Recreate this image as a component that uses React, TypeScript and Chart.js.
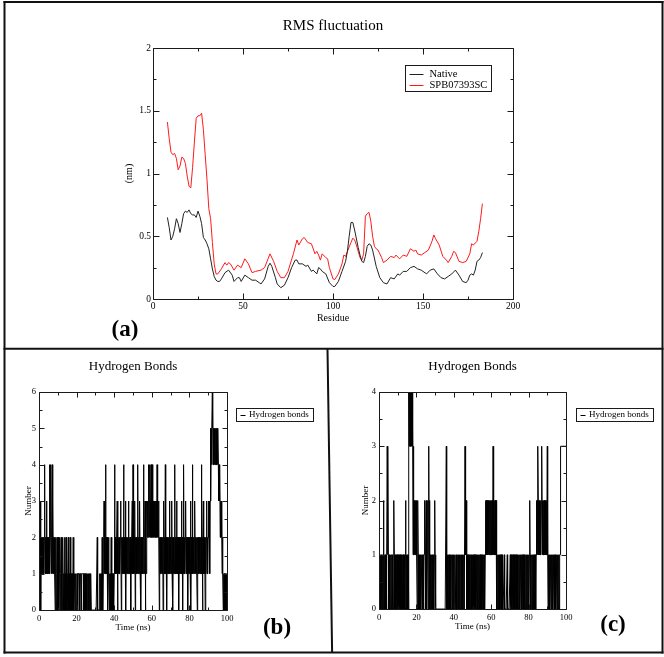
import React, { useEffect, useRef } from 'react';
import { Chart, registerables } from 'chart.js';
Chart.register(...registerables);

const SERIF = '"Liberation Serif", "Times New Roman", serif';

// ---------- Panel (a): RMS fluctuation ----------
const rmsTitle = 'RMS fluctuation';
const rmsXLabel = 'Residue';
const rmsYLabel = '(nm)';
const nativeLabel = 'Native';
const spbLabel = 'SPB07393SC';

const nativeResidues = [
  8, 9, 10, 11, 12, 13, 14, 15, 16, 17, 18, 19, 20, 21, 22, 23, 24, 25, 26, 27,
  28, 29, 30, 31, 32, 33, 34, 35, 36, 37, 38, 40, 42, 44, 45, 47, 48, 49, 51, 53,
  55, 57, 59, 60, 62, 64, 65, 66, 68, 69, 71, 73, 75, 77, 79, 80, 81, 83, 85, 86,
  88, 89, 91, 92, 93, 94, 96, 98, 100, 101, 103, 105, 107, 108, 109, 110, 111, 112, 114, 115,
  116, 117, 118, 119, 120, 121, 122, 124, 126, 128, 130, 132, 134, 136, 137, 139, 141, 143, 145, 147,
  149, 152, 154, 156, 158, 160, 162, 164, 166, 168, 170, 172, 174, 175, 176, 177, 178, 179, 180, 181,
  182, 183,
];
const nativeRmsf = [
  0.65, 0.57, 0.47, 0.5, 0.56, 0.64, 0.6, 0.53, 0.6, 0.68, 0.7, 0.69, 0.71, 0.68, 0.67, 0.67, 0.65, 0.7, 0.66, 0.6,
  0.49, 0.47, 0.44, 0.4, 0.32, 0.24, 0.18, 0.15, 0.14, 0.14, 0.16, 0.21, 0.23, 0.19, 0.14, 0.17, 0.17, 0.14, 0.19, 0.17,
  0.15, 0.15, 0.13, 0.12, 0.16, 0.26, 0.285, 0.26, 0.17, 0.12, 0.09, 0.11, 0.17, 0.25, 0.31, 0.31, 0.28, 0.28, 0.26, 0.27,
  0.22, 0.23, 0.2, 0.25, 0.24, 0.22, 0.2, 0.13, 0.1, 0.1, 0.14, 0.22, 0.3, 0.38, 0.5, 0.61, 0.61, 0.55, 0.41, 0.35,
  0.3, 0.29, 0.34, 0.42, 0.44, 0.43, 0.39, 0.26, 0.17, 0.13, 0.12, 0.17, 0.16, 0.2, 0.19, 0.22, 0.22, 0.25, 0.26, 0.24,
  0.23, 0.2, 0.23, 0.24, 0.2, 0.17, 0.16, 0.18, 0.2, 0.23, 0.19, 0.14, 0.13, 0.15, 0.19, 0.2, 0.19, 0.23, 0.3, 0.31,
  0.33, 0.37,
];

const spbResidues = [
  8, 9, 10, 11, 12, 13, 14, 15, 16, 17,
  18, 19, 20, 21, 22, 23, 24, 25, 26, 27,
  28, 29, 30, 31, 32, 33, 34, 35, 36, 38,
  40, 41, 42, 43, 45, 47, 49, 51, 53, 55,
  57, 60, 62, 65, 67, 69, 71, 73, 75, 78,
  80, 81, 83, 84, 86, 88, 90, 91, 92, 93,
  94, 96, 97, 98, 100, 101, 103, 105, 106, 107,
  108, 110, 111, 112, 113, 115, 116, 117, 118, 119,
  120, 121, 122, 123, 124, 125, 127, 128, 130, 132,
  134, 135, 137, 139, 141, 143, 145, 146, 147, 149,
  151, 153, 155, 156, 157, 159, 161, 163, 164, 166,
  167, 168, 170, 172, 174, 176, 177, 178, 180, 181,
  182, 183,
];
const spbRmsf = [
  1.41, 1.28, 1.17, 1.15, 1.16, 1.12, 1.03, 1.06, 1.13, 1.12,
  1.08, 0.98, 0.9, 0.885, 1.05, 1.25, 1.44, 1.46, 1.46, 1.48,
  1.35, 1.15, 0.95, 0.72, 0.64, 0.45, 0.28, 0.2, 0.2, 0.24,
  0.29, 0.27, 0.29, 0.28, 0.23, 0.27, 0.25, 0.32, 0.28, 0.21,
  0.22, 0.23, 0.25, 0.36, 0.3, 0.22, 0.17, 0.17, 0.22, 0.36,
  0.47, 0.43, 0.48, 0.49, 0.45, 0.44, 0.36, 0.38, 0.35, 0.31,
  0.36, 0.33, 0.32, 0.25, 0.16, 0.155, 0.2, 0.28, 0.35, 0.34,
  0.38, 0.45, 0.485, 0.47, 0.43, 0.33, 0.31, 0.36, 0.66, 0.68,
  0.69, 0.62, 0.5, 0.42, 0.4, 0.39, 0.33, 0.29, 0.31, 0.34,
  0.33, 0.35, 0.32, 0.35, 0.34, 0.4, 0.38, 0.39, 0.36, 0.35,
  0.37, 0.39, 0.46, 0.51, 0.48, 0.43, 0.34, 0.31, 0.29, 0.34,
  0.38, 0.37, 0.3, 0.29, 0.3, 0.36, 0.44, 0.43, 0.46, 0.54,
  0.64, 0.76,
];

// ---------- Panels (b), (c): Hydrogen bonds (one sample every 0.2 ns, 0..100 ns) ----------
const hbTitle = 'Hydrogen Bonds';
const hbLabel = 'Hydrogen bonds';
const hbXLabel = 'Time (ns)';
const hbYLabel = 'Number';
const hbSampleNs = 0.2;

// each row = 5 ns
const hbondsB = [
  0, 2, 1, 3, 1, 0, 2, 1, 2, 1, 2, 1, 2, 1, 2, 4, 1, 2, 1, 2, 3, 1, 2, 1, 2,
  1, 2, 1, 4, 1, 2, 4, 2, 1, 2, 4, 1, 3, 1, 2, 1, 2, 1, 0, 2, 1, 0, 1, 2, 1,
  0, 2, 1, 0, 1, 2, 0, 1, 1, 2, 0, 1, 0, 2, 1, 0, 1, 1, 2, 0, 1, 0, 2, 1, 0,
  1, 0, 1, 2, 0, 1, 1, 0, 2, 1, 0, 1, 0, 1, 1, 0, 2, 1, 0, 1, 1, 0, 1, 1, 0,
  1, 1, 1, 0, 1, 1, 1, 1, 0, 0, 1, 1, 1, 0, 1, 1, 1, 1, 1, 0, 1, 0, 1, 1, 0,
  1, 0, 1, 0, 1, 1, 0, 1, 0, 1, 1, 1, 0, 1, 0, 0, 0, 0, 0, 0, 0, 0, 0, 0, 0,
  0, 0, 0, 0, 0, 2, 0, 0, 0, 0, 0, 1, 1, 0, 1, 0, 1, 0, 2, 1, 0, 1, 2, 3, 1,
  2, 1, 4, 1, 2, 1, 2, 1, 0, 1, 2, 1, 0, 1, 0, 1, 0, 2, 1, 0, 1, 0, 1, 1, 0,
  1, 4, 1, 2, 1, 2, 1, 2, 3, 0, 2, 1, 2, 1, 2, 1, 2, 3, 2, 0, 2, 1, 2, 1, 2,
  4, 1, 2, 1, 2, 3, 0, 2, 1, 2, 1, 2, 1, 3, 2, 1, 2, 1, 2, 0, 2, 1, 2, 3, 1,
  4, 2, 1, 2, 1, 3, 0, 2, 1, 2, 1, 2, 1, 4, 1, 2, 1, 2, 3, 1, 2, 0, 2, 1, 2,
  1, 2, 1, 4, 2, 1, 2, 3, 0, 2, 1, 2, 3, 2, 3, 2, 3, 4, 3, 2, 4, 3, 2, 4, 3,
  2, 4, 3, 2, 3, 2, 3, 2, 3, 2, 3, 2, 3, 2, 4, 2, 3, 2, 3, 2, 0, 2, 1, 2, 1,
  2, 1, 2, 1, 2, 0, 2, 3, 1, 2, 1, 4, 1, 2, 1, 0, 2, 1, 2, 1, 2, 1, 3, 1, 2,
  1, 2, 1, 3, 1, 2, 0, 2, 1, 2, 1, 4, 1, 2, 1, 2, 3, 1, 2, 1, 2, 1, 0, 2, 1,
  2, 1, 2, 1, 3, 1, 2, 0, 2, 1, 4, 1, 2, 1, 2, 3, 1, 2, 1, 2, 1, 0, 2, 1, 2,
  1, 2, 1, 3, 0, 2, 1, 2, 4, 1, 2, 1, 2, 1, 3, 2, 1, 2, 1, 2, 1, 0, 2, 1, 2,
  1, 2, 1, 2, 1, 2, 1, 4, 1, 2, 0, 2, 3, 1, 2, 1, 2, 0, 2, 1, 2, 3, 1, 2, 1,
  2, 3, 2, 3, 1, 3, 5, 3, 5, 4, 5, 6, 5, 4, 5, 4, 5, 4, 5, 4, 5, 4, 5, 4, 5,
  4, 5, 4, 3, 4, 3, 4, 2, 3, 2, 3, 2, 1, 2, 1, 0, 1, 0, 1, 0, 1, 0, 1, 0, 1,
  0,
];

const hbondsC = [
  1, 0, 1, 0, 1, 0, 1, 0, 1, 0, 1, 0, 2, 1, 0, 1, 0, 1, 0, 1, 0, 1, 3, 1, 3,
  1, 0, 1, 0, 1, 0, 1, 1, 0, 1, 1, 0, 1, 0, 1, 2, 1, 0, 1, 1, 0, 1, 0, 1, 1,
  0, 1, 1, 0, 1, 1, 0, 1, 0, 1, 0, 1, 0, 1, 0, 1, 0, 1, 0, 1, 0, 2, 1, 0, 1,
  0, 1, 0, 1, 0, 4, 3, 4, 3, 4, 3, 4, 3, 3, 4, 3, 1, 3, 1, 2, 1, 2, 1, 2, 1,
  2, 1, 0, 1, 2, 1, 0, 1, 0, 1, 0, 1, 0, 1, 1, 0, 1, 0, 1, 0, 1, 1, 2, 1, 0,
  1, 2, 1, 0, 1, 2, 1, 0, 3, 1, 2, 0, 1, 0, 1, 0, 1, 0, 1, 0, 1, 1, 0, 1, 2,
  1, 0, 0, 0, 0, 0, 0, 0, 0, 0, 0, 0, 0, 0, 0, 0, 0, 0, 0, 0, 0, 0, 0, 0, 0,
  0, 0, 0, 0, 0, 3, 0, 0, 1, 0, 0, 1, 0, 1, 0, 0, 1, 0, 0, 1, 1, 0, 1, 0, 0,
  1, 0, 1, 1, 0, 0, 1, 0, 1, 0, 1, 1, 0, 1, 0, 0, 1, 0, 1, 1, 0, 1, 0, 1, 1,
  0, 1, 1, 0, 0, 3, 2, 1, 2, 1, 0, 1, 0, 1, 1, 0, 1, 0, 1, 0, 1, 1, 0, 1, 0,
  1, 0, 1, 1, 0, 1, 0, 1, 0, 1, 1, 0, 1, 0, 1, 0, 1, 1, 0, 1, 0, 1, 0, 1, 1,
  0, 1, 0, 1, 0, 1, 0, 1, 0, 1, 2, 1, 2, 1, 2, 2, 1, 2, 1, 2, 1, 2, 1, 1, 2,
  1, 2, 1, 2, 1, 3, 1, 2, 1, 2, 1, 2, 1, 2, 0, 1, 0, 1, 1, 0, 1, 0, 1, 0, 1,
  0, 1, 1, 0, 1, 0, 0, 0, 0, 0, 1, 0, 0, 0, 0, 0, 0, 0, 1, 0, 0, 0, 0, 0, 0,
  0, 1, 0, 1, 1, 0, 1, 0, 1, 1, 0, 1, 0, 0, 1, 0, 1, 1, 0, 1, 0, 1, 0, 1, 1,
  0, 1, 0, 1, 1, 0, 1, 0, 1, 0, 1, 1, 0, 1, 0, 1, 0, 1, 1, 0, 1, 0, 1, 1, 0,
  1, 0, 1, 2, 1, 0, 1, 0, 1, 1, 0, 1, 0, 1, 0, 1, 1, 0, 1, 0, 1, 2, 1, 2, 1,
  3, 2, 1, 2, 1, 2, 1, 2, 1, 2, 3, 2, 1, 2, 1, 2, 1, 2, 1, 2, 1, 2, 1, 2, 1,
  3, 1, 0, 1, 1, 0, 1, 0, 1, 1, 0, 1, 1, 0, 1, 0, 1, 1, 0, 1, 0, 1, 1, 0, 1,
  1, 0, 1, 1, 0, 1, 1, 0, 1, 1, 3, 3, 3, 3, 3, 3, 3, 3, 3, 3, 3, 3, 3, 3, 3,
  3,
];

// ---------- plugins ----------
const frameTicks = {
  id: 'frameTicks',
  afterDatasetsDraw(chart: any, _args: any, o: any) {
    const { ctx, chartArea } = chart;
    const { left, right, top, bottom } = chartArea;
    const xs = chart.scales.x;
    const ys = chart.scales.y;
    const p = (v: number) => Math.round(v) + 0.5;
    ctx.save();
    ctx.strokeStyle = '#1a1a1a';
    ctx.lineWidth = 1;
    ctx.beginPath();
    ctx.rect(p(left), p(top), p(right) - p(left), p(bottom) - p(top));
    const isMajor = (v: number, base: number, step: number) => {
      const r = (v - base) / step;
      return Math.abs(r - Math.round(r)) < 1e-6;
    };
    for (let k = 0; ; k++) {
      const v = xs.min + k * o.xMinor;
      if (v > xs.max + 1e-9) break;
      const len = isMajor(v, xs.min, o.xMajor) ? o.major : o.minor;
      const x = p(xs.getPixelForValue(v));
      ctx.moveTo(x, p(bottom));
      ctx.lineTo(x, p(bottom) - len);
      ctx.moveTo(x, p(top));
      ctx.lineTo(x, p(top) + len);
    }
    for (let k = 0; ; k++) {
      const v = ys.min + k * o.yMinor;
      if (v > ys.max + 1e-9) break;
      const len = isMajor(v, ys.min, o.yMajor) ? o.major : o.minor;
      const y = p(ys.getPixelForValue(v));
      ctx.moveTo(p(left), y);
      ctx.lineTo(p(left) + len, y);
      ctx.moveTo(p(right), y);
      ctx.lineTo(p(right) - len, y);
    }
    ctx.stroke();
    ctx.restore();
  },
};

const boxLegend = {
  id: 'boxLegend',
  afterDraw(chart: any, _args: any, o: any) {
    const { ctx, chartArea } = chart;
    const x0 = Math.round((o.fromRight ? chartArea.right : chartArea.left) + o.dx) + 0.5;
    const y0 = Math.round(chartArea.top + o.dy) + 0.5;
    ctx.save();
    ctx.lineWidth = 1;
    ctx.strokeStyle = '#1a1a1a';
    ctx.strokeRect(x0, y0, o.w, o.h);
    ctx.font = `${o.fontSize}px ${SERIF}`;
    ctx.textBaseline = 'middle';
    ctx.textAlign = 'left';
    ctx.fillStyle = '#000';
    chart.data.datasets.forEach((ds: any, i: number) => {
      const y = y0 + o.rowY0 + i * o.rowGap;
      const yl = Math.round(y) + 0.5;
      ctx.strokeStyle = ds.borderColor;
      ctx.beginPath();
      ctx.moveTo(x0 + o.lineX0, yl);
      ctx.lineTo(x0 + o.lineX1, yl);
      ctx.stroke();
      ctx.fillText(ds.label, x0 + o.textX, y);
    });
    ctx.restore();
  },
};

const plainNumber = (v: any) => String(Number(v));

// ---------- configs ----------
function rmsConfig(): any {
  return {
    type: 'line',
    data: {
      datasets: [
        {
          label: nativeLabel,
          data: nativeResidues.map((r, i) => ({ x: r, y: nativeRmsf[i] })),
          borderColor: '#222222',
          borderWidth: 1,
          pointRadius: 0,
          tension: 0,
          fill: false,
        },
        {
          label: spbLabel,
          data: spbResidues.map((r, i) => ({ x: r, y: spbRmsf[i] })),
          borderColor: '#ff1a1a',
          borderWidth: 1,
          pointRadius: 0,
          tension: 0,
          fill: false,
        },
      ],
    },
    options: {
      responsive: false,
      animation: false,
      devicePixelRatio: 1,
      events: [],
      layout: { padding: { left: 0, top: 0, right: 151, bottom: 0 } },
      plugins: {
        legend: { display: false },
        tooltip: { enabled: false },
        title: {
          display: true,
          text: rmsTitle,
          fullSize: false,
          color: '#000',
          font: { family: SERIF, size: 15, weight: 'normal', lineHeight: 1 },
          padding: { top: 18.5, bottom: 14.5 },
        },
        frameTicks: { xMajor: 50, xMinor: 25, yMajor: 0.5, yMinor: 0.25, major: 6, minor: 3 },
        boxLegend: {
          dx: 252, dy: 17, w: 86, h: 26, rowY0: 8.3, rowGap: 11,
          lineX0: 4, lineX1: 18, textX: 24, fontSize: 10.5,
        },
      },
      scales: {
        x: {
          type: 'linear',
          min: 0,
          max: 200,
          afterFit: (s: any) => { s.height = 49; },
          grid: { display: false, drawTicks: false },
          border: { display: false },
          ticks: { stepSize: 50, padding: 2, color: '#000', autoSkip: false, maxRotation: 0, callback: plainNumber, font: { family: SERIF, size: 9.5 } },
          title: { display: true, text: rmsXLabel, color: '#000', font: { family: SERIF, size: 10, lineHeight: 1 }, padding: { top: 0, bottom: 24.5 } },
        },
        y: {
          type: 'linear',
          min: 0,
          max: 2,
          afterFit: (s: any) => { s.width = 153; },
          grid: { display: false, drawTicks: false },
          border: { display: false },
          ticks: { stepSize: 0.5, padding: 2, color: '#000', autoSkip: false, callback: plainNumber, font: { family: SERIF, size: 9.5 } },
          title: { display: true, text: rmsYLabel, color: '#000', font: { family: SERIF, size: 10, lineHeight: 1 }, padding: { top: 124.5, bottom: 0 } },
        },
      },
    },
    plugins: [frameTicks, boxLegend],
  };
}

function hbConfig(values: number[], yMax: number, g: any): any {
  return {
    type: 'line',
    data: {
      datasets: [
        {
          label: hbLabel,
          data: values.map((v, i) => ({ x: i * hbSampleNs, y: v })),
          borderColor: '#000',
          borderWidth: 1,
          pointRadius: 0,
          tension: 0,
          fill: false,
        },
      ],
    },
    options: {
      responsive: false,
      animation: false,
      devicePixelRatio: 1,
      events: [],
      layout: { padding: { left: 0, top: 0, right: g.padRight, bottom: 0 } },
      plugins: {
        legend: { display: false },
        tooltip: { enabled: false },
        title: {
          display: true,
          text: hbTitle,
          fullSize: false,
          color: '#000',
          font: { family: SERIF, size: 13, weight: 'normal', lineHeight: 1 },
          padding: { top: 10, bottom: 19 },
        },
        frameTicks: { xMajor: 20, xMinor: 10, yMajor: 1, yMinor: 0.5, major: 5, minor: 3 },
        boxLegend: {
          fromRight: true, dx: g.legDx, dy: 16, w: 77, h: 13, rowY0: 6.5, rowGap: 0,
          lineX0: 4, lineX1: 9, textX: 12.5, fontSize: 9,
        },
      },
      scales: {
        x: {
          type: 'linear',
          min: 0,
          max: 100,
          afterFit: (s: any) => { s.height = g.xH; },
          grid: { display: false, drawTicks: false },
          border: { display: false },
          ticks: { stepSize: 20, padding: 4, color: '#000', autoSkip: false, maxRotation: 0, callback: plainNumber, font: { family: SERIF, size: 8.5 } },
          title: { display: true, text: hbXLabel, color: '#000', font: { family: SERIF, size: 9, lineHeight: 1 }, padding: { top: 0, bottom: g.xTitlePad } },
        },
        y: {
          type: 'linear',
          min: 0,
          max: yMax,
          afterFit: (s: any) => { s.width = g.yW; },
          grid: { display: false, drawTicks: false },
          border: { display: false },
          ticks: { stepSize: 1, padding: 3, color: '#000', autoSkip: false, callback: plainNumber, font: { family: SERIF, size: 8.5 } },
          title: { display: true, text: hbYLabel, color: '#000', font: { family: SERIF, size: 9, lineHeight: 1 }, padding: { top: g.yTitlePad, bottom: 0 } },
        },
      },
    },
    plugins: [frameTicks, boxLegend],
  };
}

function ChartCanvas({ make, left, top, width, height }: any) {
  const ref = useRef<HTMLCanvasElement>(null);
  useEffect(() => {
    const chart = new Chart(ref.current as HTMLCanvasElement, make());
    return () => chart.destroy();
  }, []);
  return (
    <canvas
      ref={ref}
      width={width}
      height={height}
      style={{ position: 'absolute', left, top, width, height }}
    />
  );
}

function PanelLabel({ text, x, y }: any) {
  return (
    <div
      style={{
        position: 'absolute',
        left: x,
        top: y,
        transform: 'translate(-50%, -50%)',
        font: `bold 23px ${SERIF}`,
        lineHeight: 1,
        whiteSpace: 'nowrap',
        color: '#000',
      }}
    >
      {text}
    </div>
  );
}

export default function App() {
  return (
    <div style={{ position: 'absolute', left: 0, top: 0, width: 664, height: 657, background: '#fff', overflow: 'hidden' }}>
      <ChartCanvas make={rmsConfig} left={0} top={0} width={664} height={348} />
      <ChartCanvas
        make={() => hbConfig(hbondsB, 6, { padRight: 99, yW: 33, xH: 40, xTitlePad: 18, yTitlePad: 17.8, legDx: 9 })}
        left={6}
        top={350}
        width={320}
        height={300}
      />
      <ChartCanvas
        make={() => hbConfig(hbondsC, 4, { padRight: 94, yW: 45, xH: 41, xTitlePad: 18.8, yTitlePad: 27, legDx: 10 })}
        left={334}
        top={350}
        width={326}
        height={300}
      />
      <PanelLabel text="(a)" x={125} y={328} />
      <PanelLabel text="(b)" x={277} y={626} />
      <PanelLabel text="(c)" x={613} y={623} />
      <svg
        width={664}
        height={657}
        style={{ position: 'absolute', left: 0, top: 0, pointerEvents: 'none' }}
      >
        <g stroke="#111" strokeWidth={2} fill="none">
          <line x1={3.5} y1={2} x2={663.5} y2={2} />
          <line x1={4.5} y1={1} x2={4.5} y2={653.5} />
          <line x1={662.5} y1={1} x2={662.5} y2={653.5} />
          <line x1={3.5} y1={652.5} x2={663.5} y2={652.5} />
          <line x1={3.5} y1={348.8} x2={663.5} y2={348.8} />
          <line x1={327.5} y1={349} x2={332.1} y2={652} />
        </g>
      </svg>
    </div>
  );
}
